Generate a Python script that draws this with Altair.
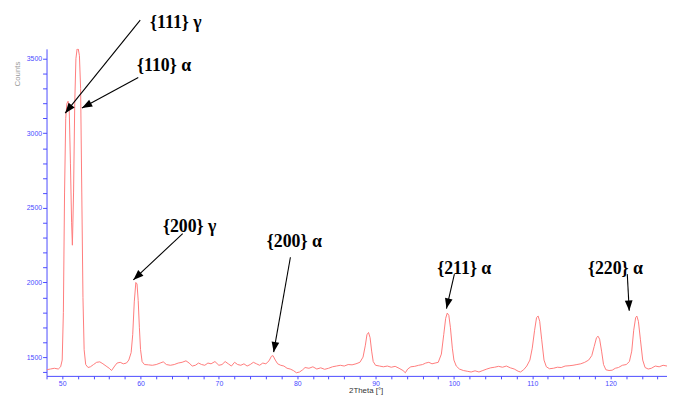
import math
import altair as alt
import pandas as pd

# ---- XRD pattern ----
two_theta = [
    48.0, 48.5, 49.0, 49.5, 49.8, 50.0, 50.15, 50.3, 50.45, 50.6, 50.75, 50.9, 51.05, 51.2, 51.3,
    51.45, 51.6, 51.75, 51.9, 52.05, 52.2, 52.35, 52.5, 52.65, 52.8, 53.0, 53.3, 53.6, 54.0, 54.4,
    54.8, 55.2, 55.6, 56.0, 56.3, 56.7, 57.0, 57.4, 57.8, 58.2, 58.5, 58.8, 59.0, 59.2, 59.4,
    59.55, 59.7, 59.85, 60.0, 60.2, 60.5, 61.0, 61.5, 62.0, 62.5, 62.9, 63.3, 63.8, 64.3, 64.8,
    65.3, 65.8, 66.2, 66.6, 67.0, 67.4, 67.8, 68.2, 68.6, 69.0, 69.5, 70.0, 70.4, 70.8, 71.2,
    71.6, 72.0, 72.4, 72.8, 73.2, 73.6, 74.0, 74.4, 74.8, 75.2, 75.6, 76.0, 76.4, 76.7, 76.9,
    77.2, 77.5, 77.9, 78.3, 78.7, 79.1, 79.5, 79.9, 80.3, 80.7, 81.0, 81.5, 82.0, 82.5, 83.0,
    83.5, 84.0, 84.5, 85.0, 85.5, 86.0, 86.5, 87.0, 87.5, 88.0, 88.4, 88.7, 88.9, 89.1, 89.3,
    89.5, 89.7, 90.0, 90.5, 91.0, 91.5, 92.0, 92.5, 93.0, 93.5, 93.8, 94.1, 94.5, 95.0, 95.5,
    96.0, 96.4, 96.8, 97.2, 97.6, 98.0, 98.4, 98.7, 98.95, 99.15, 99.35, 99.55, 99.8, 100.0, 100.3,
    100.7, 101.2, 101.7, 102.2, 102.7, 103.2, 103.7, 104.2, 104.7, 105.2, 105.7, 106.2, 106.7, 107.2, 107.7,
    108.2, 108.5, 108.9, 109.3, 109.7, 110.0, 110.3, 110.55, 110.75, 110.95, 111.2, 111.5, 111.8, 112.2, 112.7,
    113.2, 113.7, 114.2, 114.7, 115.2, 115.7, 116.2, 116.7, 117.2, 117.6, 117.9, 118.2, 118.4, 118.6, 118.85,
    119.1, 119.4, 119.8, 120.2, 120.6, 121.0, 121.5, 122.0, 122.4, 122.7, 122.95, 123.2, 123.35, 123.55, 123.8,
    124.1, 124.4, 124.8, 125.2, 125.7, 126.2, 126.7, 127.2,
]
counts = [
    1415, 1420, 1425, 1420, 1435, 1480, 1800, 2600, 3100, 3200, 3215, 3150, 2800, 2400, 2250,
    2600, 3200, 3500, 3565, 3565, 3520, 3300, 2600, 1900, 1550, 1450, 1430, 1435, 1450, 1465,
    1468, 1455, 1440, 1425, 1410, 1440, 1460, 1465, 1455, 1460, 1480, 1530, 1650, 1870, 2000,
    1990, 1880, 1700, 1550, 1470, 1450, 1448, 1445, 1450, 1460, 1468, 1450, 1445, 1450, 1460,
    1465, 1475, 1460, 1440, 1445, 1460, 1450, 1445, 1460, 1455, 1470, 1445, 1450, 1470, 1455,
    1440, 1465, 1450, 1445, 1455, 1440, 1450, 1465, 1455, 1445, 1460, 1455, 1475, 1505, 1510,
    1480, 1455, 1445, 1440, 1425, 1420, 1410, 1395, 1400, 1415, 1430, 1425, 1435, 1420, 1428,
    1418, 1425, 1435, 1440, 1445, 1440, 1450, 1448, 1455, 1465, 1500, 1580, 1650, 1665, 1630,
    1540, 1470, 1445, 1440, 1435, 1440, 1432, 1438, 1425, 1410, 1395, 1420, 1435, 1438, 1445,
    1450, 1460, 1465, 1455, 1460, 1465, 1520, 1650, 1760, 1795, 1780, 1700, 1560, 1480, 1440,
    1420, 1410, 1405, 1400, 1408, 1400, 1410, 1420, 1428, 1432, 1438, 1432, 1440, 1428, 1420,
    1405, 1400, 1415, 1440, 1480, 1560, 1680, 1765, 1775, 1740, 1620, 1480, 1435, 1422, 1425,
    1432, 1430, 1440, 1442, 1445, 1450, 1455, 1465, 1480, 1510, 1570, 1630, 1640, 1620, 1540,
    1450, 1415, 1410, 1412, 1425, 1430, 1445, 1450, 1470, 1540, 1680, 1765, 1775, 1740, 1620,
    1480, 1430, 1420, 1425, 1440, 1435, 1445, 1440,
]

# ---- annotations (data coordinates) ----
labels = ["{111} γ", "{110} α", "{200} γ", "{200} α", "{211} α", "{220} α"]
label_x = [64.5, 63.0, 66.27, 79.63, 101.32, 120.62]
label_y = [3738, 3454, 2374, 2268, 2089, 2089]
arrow_x0 = [59.96, 59.71, 65.38, 79.13, 100.06, 122.13]
arrow_y0 = [3758, 3374, 2328, 2169, 2056, 2056]
arrow_x1 = [50.38, 52.52, 59.08, 76.99, 99.05, 122.38]
arrow_y1 = [3135, 3169, 2017, 1533, 1825, 1811]

x_ticks = list(range(48, 128, 2))
y_ticks = list(range(1400, 3600, 100))

X_DOMAIN = [48, 127.2]
Y_DOMAIN = [1374, 3566]
W, H = 628, 331

sx = W / (X_DOMAIN[1] - X_DOMAIN[0])
sy = H / (Y_DOMAIN[1] - Y_DOMAIN[0])

angles = []
for a, b, c, d in zip(arrow_x0, arrow_y0, arrow_x1, arrow_y1):
    dx = (c - a) * sx
    dy = -(d - b) * sy
    ang = math.degrees(math.atan2(dx, -dy)) % 360
    angles.append(ang)

df = pd.DataFrame({"t": two_theta, "c": counts})
lab = pd.DataFrame({"t": label_x, "c": label_y, "txt": labels})
arr = pd.DataFrame({"t": arrow_x0, "c": arrow_y0, "t2": arrow_x1, "c2": arrow_y1, "ang": angles})

BLUE = "#4a4aff"
xs = alt.Scale(domain=X_DOMAIN, nice=False, zero=False)
ys = alt.Scale(domain=Y_DOMAIN, nice=False, zero=False)

x_axis = alt.Axis(
    values=x_ticks, tickCount=200, format="d",
    labelExpr="datum.value % 10 == 0 ? datum.label : ''",
    grid=False, domainColor=BLUE, tickColor=BLUE, labelColor=BLUE,
    labelFont="Liberation Sans", labelFontSize=7, tickSize=3, labelPadding=1,
    labelOverlap=False, title="2Theta [°]", titleFont="Liberation Sans",
    titleFontSize=8, titleFontWeight="normal", titleColor="#333333",
    titleX=323, titleY=11, titleBaseline="top", titleAlign="center",
)
y_axis = alt.Axis(
    values=y_ticks, tickCount=200, format="d",
    labelExpr="datum.value % 500 == 0 ? datum.label : ''",
    grid=False, domainColor=BLUE, tickColor=BLUE, labelColor=BLUE,
    labelFont="Liberation Sans", labelFontSize=7, tickSize=4, labelPadding=1,
    labelOverlap=False, title="Counts", titleFont="Liberation Sans",
    titleFontSize=8, titleFontWeight="normal", titleColor="#999999",
    titleX=-29, titleY=25, titleAngle=270, titleAlign="center", titleBaseline="middle",
)

line = alt.Chart(df).mark_line(color="#ff7b7b", strokeWidth=1, clip=True).encode(
    x=alt.X("t:Q", scale=xs, axis=x_axis),
    y=alt.Y("c:Q", scale=ys, axis=y_axis),
)

rules = alt.Chart(arr).mark_rule(color="black", strokeWidth=1.1).encode(
    x=alt.X("t:Q", scale=xs), y=alt.Y("c:Q", scale=ys),
    x2="t2:Q", y2="c2:Q",
)

heads = alt.Chart(arr).mark_point(
    shape="M0,0 L-0.45,1.2 L0.45,1.2 Z", filled=True, color="black", opacity=1, size=300,
).encode(
    x=alt.X("t2:Q", scale=xs), y=alt.Y("c2:Q", scale=ys),
    angle=alt.Angle("ang:Q", scale=None),
)

texts = alt.Chart(lab).mark_text(
    font="Liberation Serif", fontWeight="bold", fontSize=18, color="black",
    baseline="middle", align="center",
).encode(
    x=alt.X("t:Q", scale=xs), y=alt.Y("c:Q", scale=ys), text="txt:N",
)

chart = alt.layer(line, rules, heads, texts).properties(
    width=W, height=H,
    autosize=alt.AutoSizeParams(type="none"),
    padding={"left": 39, "top": 39, "right": 0, "bottom": 17},
    background="white",
).configure_view(strokeWidth=0)

chart.save("out.html", embed_options={"renderer": "svg", "actions": False})
